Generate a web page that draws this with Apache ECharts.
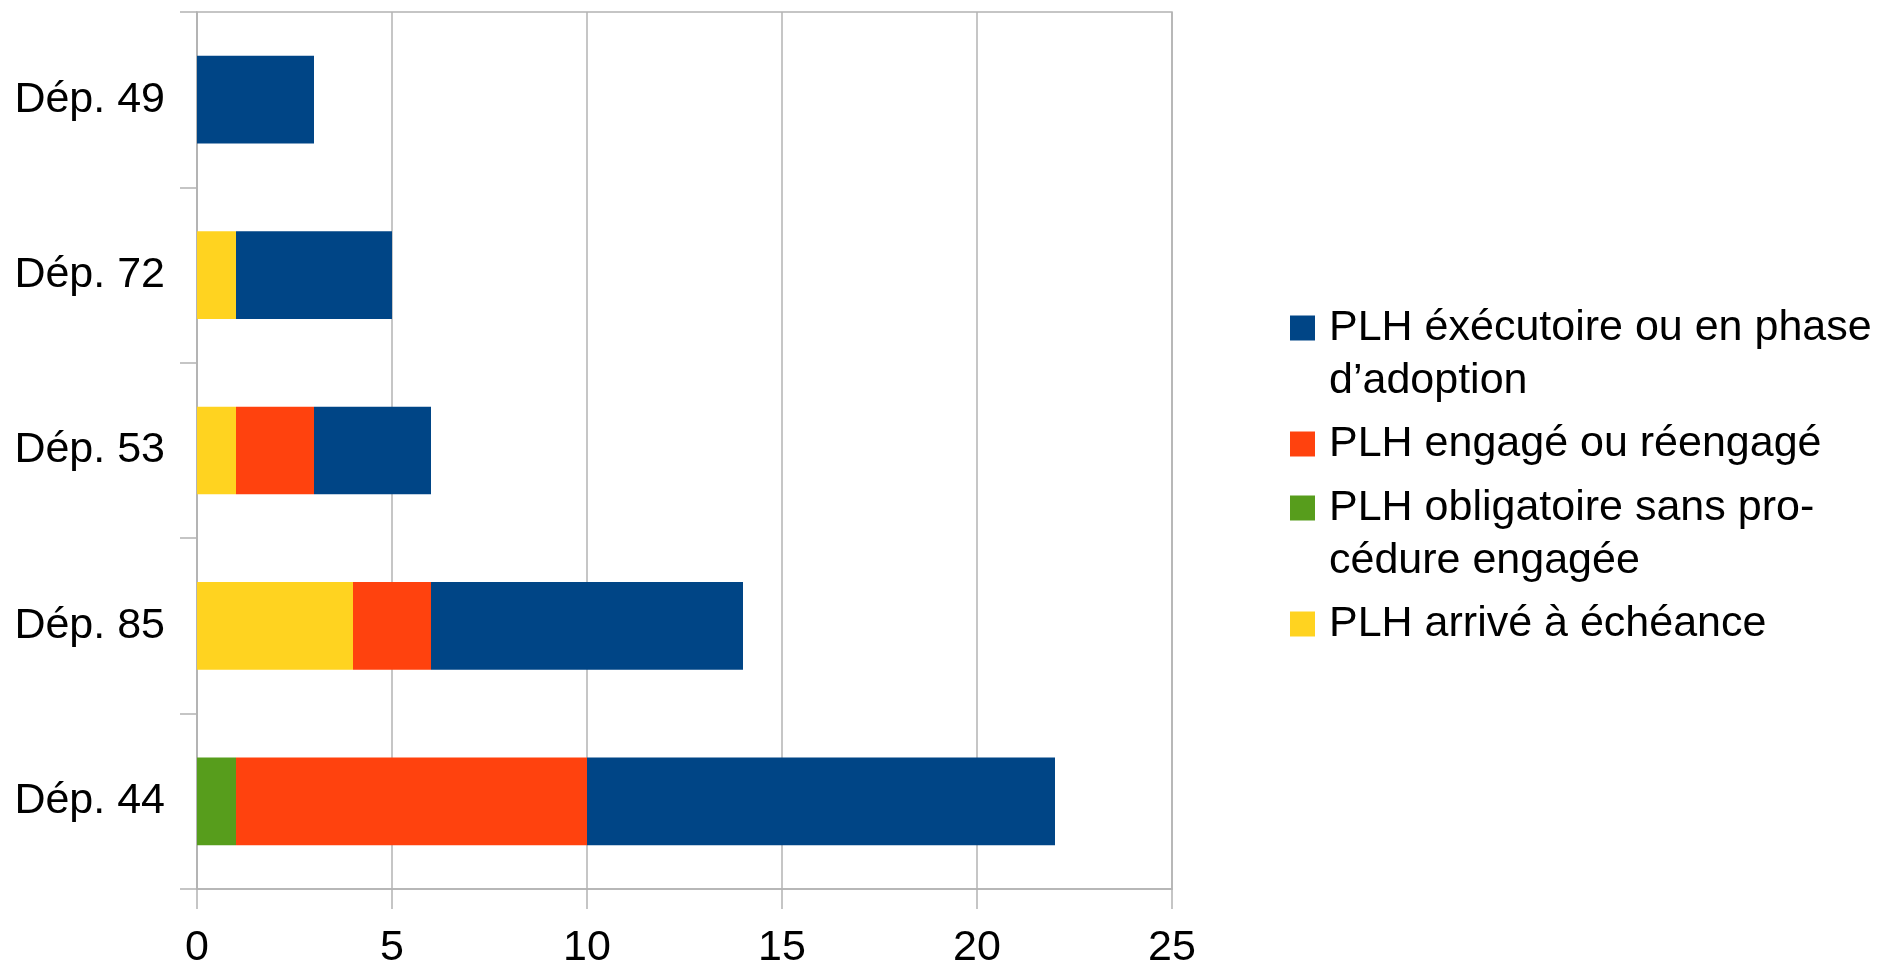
<!DOCTYPE html>
<html>
<head>
<meta charset="utf-8">
<style>
  html, body { margin: 0; padding: 0; background: #ffffff; }
  #chart { width: 1880px; height: 963px; }
</style>
<script src="https://cdn.jsdelivr.net/npm/echarts@6/dist/echarts.min.js"></script>
</head>
<body>
<div id="chart"></div>
<script>
// ---- data ----
const categories = ['Dép. 49', 'Dép. 72', 'Dép. 53', 'Dép. 85', 'Dép. 44'];
const seriesNames = [
  'PLH arrivé à échéance',
  'PLH obligatoire sans procédure engagée',
  'PLH engagé ou réengagé',
  'PLH éxécutoire ou en phase d’adoption'
];
const echeance    = [0, 1, 1, 4, 0];
const obligatoire = [0, 0, 0, 0, 1];
const engage      = [0, 0, 2, 2, 9];
const executoire  = [3, 4, 3, 8, 12];
const xTicks = [0, 5, 10, 15, 20, 25];
const legendLabels = {
  'PLH éxécutoire ou en phase d’adoption': 'PLH éxécutoire ou en phase\nd’adoption',
  'PLH engagé ou réengagé': 'PLH engagé ou réengagé',
  'PLH obligatoire sans procédure engagée': 'PLH obligatoire sans pro-\ncédure engagée',
  'PLH arrivé à échéance': 'PLH arrivé à échéance'
};

// ---- style ----
const colors = {
  'PLH arrivé à échéance': '#ffd320',
  'PLH obligatoire sans procédure engagée': '#579d1c',
  'PLH engagé ou réengagé': '#ff420e',
  'PLH éxécutoire ou en phase d’adoption': '#004586'
};
const FONT = 'Liberation Sans, Arial, sans-serif';
const FS = 43;
const LH = 53;
const ICON = 25;
const GRAY = '#b3b3b3';

const values = [echeance, obligatoire, engage, executoire];

const chart = echarts.init(document.getElementById('chart'), null, { renderer: 'canvas' });

// one legend component per item so that each marker can sit beside the first text line
function makeLegend(name, firstLineCenter, twoLines) {
  const h = twoLines ? 2 * LH : ICON;
  const top = firstLineCenter - LH / 2;
  const off = (LH - ICON) / 2;
  const icon = twoLines
    ? 'path://M0,0 M' + ICON + ',' + (2 * LH) + ' M0,' + off + 'h' + ICON + 'v' + ICON + 'h-' + ICON + 'z'
    : 'rect';
  return {
    show: true,
    orient: 'vertical',
    left: 1290,
    top: top,
    padding: 0,
    itemWidth: ICON,
    itemHeight: h,
    selectedMode: false,
    data: [{ name: name, icon: icon }],
    formatter: n => legendLabels[n],
    textStyle: {
      fontFamily: FONT,
      fontSize: FS,
      lineHeight: LH,
      color: '#000000',
      padding: [0, 0, 0, 9]
    }
  };
}

const option = {
  animation: false,
  backgroundColor: '#ffffff',
  grid: {
    left: 197, right: 708, top: 12, bottom: 74,
    outerBoundsMode: 'none',
    containLabel: false,
    show: true, borderColor: GRAY, borderWidth: 1.5, backgroundColor: 'transparent'
  },
  legend: [
    makeLegend(seriesNames[3], 328, true),
    makeLegend(seriesNames[2], 444, false),
    makeLegend(seriesNames[1], 508, true),
    makeLegend(seriesNames[0], 624, false)
  ],
  xAxis: {
    type: 'value',
    min: xTicks[0],
    max: xTicks[xTicks.length - 1],
    interval: xTicks[1] - xTicks[0],
    axisLine: { show: true, lineStyle: { color: GRAY, width: 1.5 } },
    axisTick: { show: true, length: 20, lineStyle: { color: GRAY, width: 1.5 } },
    splitLine: { show: true, lineStyle: { color: GRAY, width: 1.5 } },
    axisLabel: { fontFamily: FONT, fontSize: FS, color: '#000000', margin: 38 }
  },
  yAxis: {
    type: 'category',
    data: categories,
    inverse: true,
    axisLine: { show: true, lineStyle: { color: GRAY, width: 1.5 } },
    axisTick: { show: true, length: 17, lineStyle: { color: GRAY, width: 1.5 } },
    splitLine: { show: false },
    axisLabel: { fontFamily: FONT, fontSize: FS, color: '#000000', margin: 32 }
  },
  series: seriesNames.map((name, i) => ({
    name: name,
    type: 'bar',
    stack: 'total',
    barWidth: '50%',
    itemStyle: { color: colors[name] },
    data: values[i]
  }))
};

chart.setOption(option);
</script>
</body>
</html>
